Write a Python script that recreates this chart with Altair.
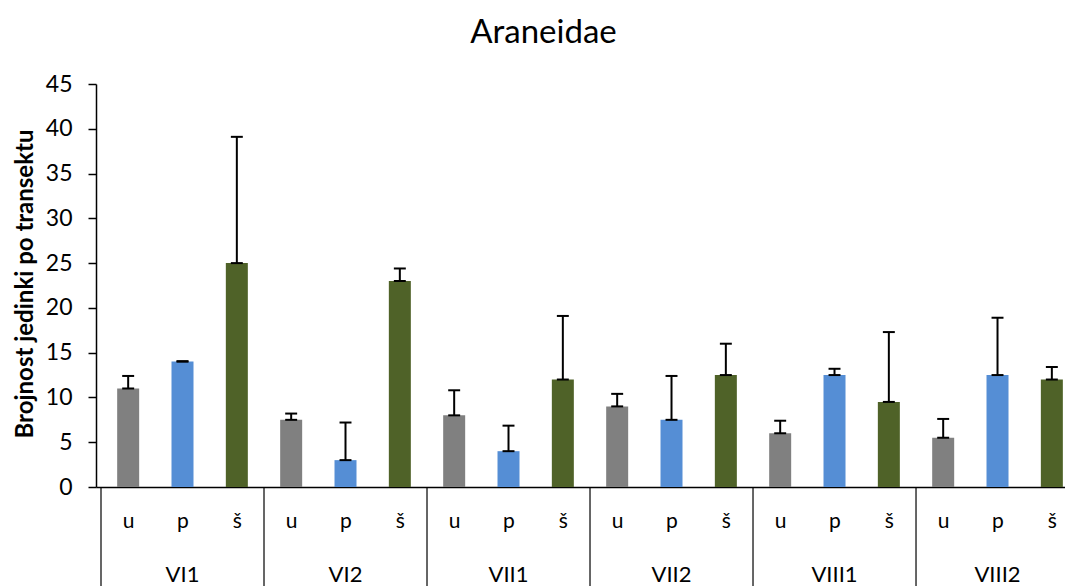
import altair as alt
import pandas as pd

groups = ["VI1", "VI2", "VII1", "VII2", "VIII1", "VIII2"]
subcats = ["u", "p", "š"]
colors = ["#808080", "#558ED5", "#4F6228"]
means = [11, 14, 25, 7.5, 3, 23, 8, 4, 12, 9, 7.5, 12.5, 6, 12.5, 9.5, 5.5, 12.5, 12]
uppers = [12.4, 14.05, 39.1, 8.2, 7.2, 24.4, 10.8, 6.85, 19.1, 10.4, 12.4, 16.0,
          7.4, 13.2, 17.3, 7.6, 18.9, 13.4]
y_ticks = list(range(0, 46, 5))

rows = []
for gi, g in enumerate(groups):
    for si, s in enumerate(subcats):
        i = gi * 3 + si
        rows.append(dict(idx=i, group=g, sub=s, mean=means[i], upper=uppers[i]))
df = pd.DataFrame(rows)
bounds = pd.DataFrame({"b": [gi * 3 - 0.5 for gi in range(len(groups) + 1)]})
glabels = pd.DataFrame({"group": groups, "c": [gi * 3 + 1 for gi in range(len(groups))]})

W = 969
H = 403
FONT = "Lato"
xscale = alt.Scale(domain=[-0.5, 17.15], nice=False, zero=False)
yscale = alt.Scale(domain=[0, 45], nice=False)

label_expr = "[" + ",".join(f"'{s}'" for s in subcats) + "][datum.value % 3]"

x_axis = alt.Axis(values=list(range(len(means))), labelExpr=label_expr, ticks=False,
                  grid=False, title=None, labelFontSize=21, labelPadding=23,
                  domainColor="black", labelColor="black", labelFont=FONT,
                  labelAngle=0, domainWidth=1.5)
y_axis = alt.Axis(values=y_ticks, tickSize=8, labelFontSize=23, labelPadding=16,
                  grid=False, title="Brojnost jedinki po transektu", titleFontSize=24,
                  titleFontWeight="bold", titleFont=FONT, labelFont=FONT,
                  domainColor="black", tickColor="black", labelColor="black",
                  titleColor="black", titleX=-71, titleY=H / 2 - 2, titleAngle=270,
                  titleBaseline="middle", titleAlign="center", domainWidth=1.5,
                  tickWidth=1.5)

base = alt.Chart(df)

bars = base.mark_bar(size=22).encode(
    x=alt.X("idx:Q", scale=xscale, axis=x_axis),
    y=alt.Y("mean:Q", scale=yscale, axis=y_axis),
    color=alt.Color("sub:N", scale=alt.Scale(domain=subcats, range=colors), legend=None),
)

err = base.mark_rule(color="black", strokeWidth=2).encode(
    x="idx:Q",
    y="mean:Q",
    y2="upper:Q",
)

caps_base = base.transform_calculate(xl="datum.idx - 0.11", xr="datum.idx + 0.11")
cap_top = caps_base.mark_rule(color="black", strokeWidth=2).encode(
    x="xl:Q", x2="xr:Q", y="upper:Q"
)
cap_bot = caps_base.mark_rule(color="black", strokeWidth=2).encode(
    x="xl:Q", x2="xr:Q", y="mean:Q"
)

dividers = alt.Chart(bounds).mark_rule(color="black", strokeWidth=1.2).encode(
    x="b:Q", y=alt.value(H), y2=alt.value(H + 100)
)

glab = alt.Chart(glabels).mark_text(fontSize=22, font=FONT, baseline="middle",
                                    color="black").encode(
    x="c:Q", y=alt.value(H + 88), text="group:N"
)

chart = alt.layer(bars, err, cap_top, cap_bot, dividers, glab).properties(
    width=W,
    height=H,
    autosize=alt.AutoSizeParams(type="none"),
    padding={"left": 88, "top": 76, "right": 0, "bottom": 100},
    title=alt.TitleParams("Araneidae", fontSize=33, font=FONT, fontWeight="normal",
                          anchor="middle", dx=-37, offset=23, color="black"),
).configure_view(stroke=None)

chart.save("out.html", embed_options={"renderer": "svg", "actions": False})
